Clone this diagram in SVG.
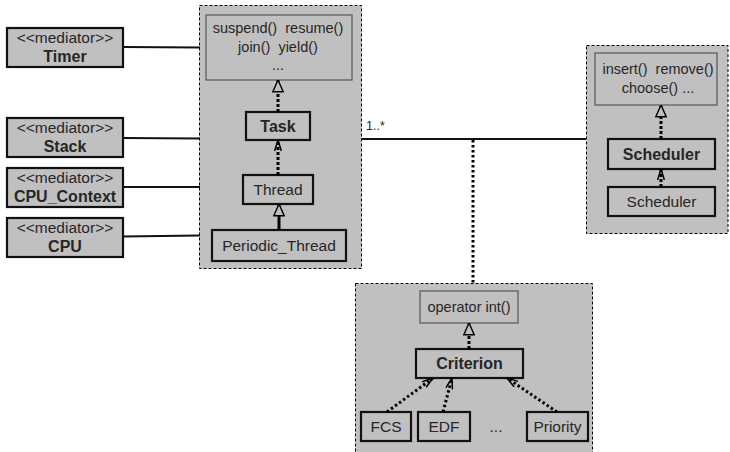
<svg xmlns="http://www.w3.org/2000/svg" width="730" height="452" viewBox="0 0 730 452">
  <style>
    .bg { fill: #ffffff; }
    .pkg { fill: #c0c0c0; stroke: #000; stroke-width: 1; stroke-dasharray: 3 2; }
    .ops { fill: #c0c0c0; stroke: #555; stroke-width: 1.2; }
    .cls { fill: #c0c0c0; stroke: #111; stroke-width: 2.2; }
    .t { font-family: "Liberation Sans", Arial, sans-serif; font-size: 15.5px; fill: #262626; text-anchor: middle; white-space: pre; }
    .m { font-size: 14.5px; }
    .b { font-weight: bold; font-size: 16px; }
    .wire { stroke: #111; stroke-width: 2; fill: none; }
    .realize { stroke: #000; stroke-width: 3; stroke-dasharray: 3 2; fill: none; }
    .inherit { stroke: #000; stroke-width: 3; fill: none; }
    .dep { stroke: #000; stroke-width: 3; stroke-dasharray: 2.5 2.5; fill: none; }
  </style>
  <defs>
    <marker id="tri" viewBox="0 0 13 12" refX="12.5" refY="6" markerWidth="13" markerHeight="12" markerUnits="userSpaceOnUse" orient="auto">
      <path d="M0.8,0.8 L12.5,6 L0.8,11.2 Z" fill="#c0c0c0" stroke="#000" stroke-width="1.4"/>
    </marker>
    <marker id="open" viewBox="0 0 12 8" refX="11.5" refY="4" markerWidth="12" markerHeight="8" markerUnits="userSpaceOnUse" orient="auto">
      <path d="M0.5,0.6 L11.5,4 L0.5,7.4" fill="none" stroke="#000" stroke-width="1.5"/>
    </marker>
  </defs>

  <rect class="bg" x="0" y="0" width="730" height="452"/>

  <!-- package containers -->
  <g id="task-package">
    <rect class="pkg" x="199.5" y="5.5" width="162" height="263"/>
    <g id="task-ops">
      <rect class="ops" x="206" y="15" width="146" height="65"/>
      <text class="t m" x="278" y="33" xml:space="preserve">suspend()  resume()</text>
      <text class="t m" x="278" y="52" xml:space="preserve">join()  yield()</text>
      <text class="t m" x="278" y="70">...</text>
    </g>
    <g id="task">
      <rect class="cls" x="246" y="112" width="64" height="28"/>
      <text class="t b" x="278" y="132">Task</text>
    </g>
    <g id="thread">
      <rect class="cls" x="243" y="175" width="70" height="29"/>
      <text class="t" x="278" y="195">Thread</text>
    </g>
    <g id="periodic-thread">
      <rect class="cls" x="212" y="230" width="134" height="31"/>
      <text class="t" x="279" y="251">Periodic_Thread</text>
    </g>
  </g>

  <g id="scheduler-package">
    <rect class="pkg" x="586.5" y="45.5" width="141.5" height="188"/>
    <g id="scheduler-ops">
      <rect class="ops" x="595" y="53" width="122" height="52"/>
      <text class="t m" x="658" y="74" xml:space="preserve">insert()  remove()</text>
      <text class="t m" x="658" y="93">choose() ...</text>
    </g>
    <g id="scheduler-if">
      <rect class="cls" x="608" y="139" width="107" height="30"/>
      <text class="t b" x="661.5" y="160">Scheduler</text>
    </g>
    <g id="scheduler-impl">
      <rect class="cls" x="608" y="187" width="107" height="29"/>
      <text class="t" x="661.5" y="207">Scheduler</text>
    </g>
  </g>

  <g id="criterion-package">
    <rect class="pkg" x="355.5" y="283.5" width="237" height="172"/>
    <g id="criterion-ops">
      <rect class="ops" x="420" y="291" width="98" height="32"/>
      <text class="t m" x="469" y="312">operator int()</text>
    </g>
    <g id="criterion">
      <rect class="cls" x="416" y="349" width="107" height="29"/>
      <text class="t b" x="469.5" y="369">Criterion</text>
    </g>
    <g id="fcs">
      <rect class="cls" x="361" y="412" width="50" height="29"/>
      <text class="t" x="386" y="432">FCS</text>
    </g>
    <g id="edf">
      <rect class="cls" x="418" y="412" width="52" height="29"/>
      <text class="t" x="444" y="432">EDF</text>
    </g>
    <text class="t" x="496" y="432">...</text>
    <g id="priority">
      <rect class="cls" x="527" y="412" width="61" height="29"/>
      <text class="t" x="557.5" y="432">Priority</text>
    </g>
  </g>

  <!-- mediators -->
  <g id="timer">
    <rect class="cls" x="7" y="28" width="116" height="39"/>
    <text class="t" x="65" y="43">&lt;&lt;mediator&gt;&gt;</text>
    <text class="t b" x="65" y="62">Timer</text>
  </g>
  <g id="stack">
    <rect class="cls" x="7" y="118" width="116" height="39"/>
    <text class="t" x="65" y="133">&lt;&lt;mediator&gt;&gt;</text>
    <text class="t b" x="65" y="152">Stack</text>
  </g>
  <g id="cpu-context">
    <rect class="cls" x="7" y="168" width="116" height="39"/>
    <text class="t" x="65" y="183">&lt;&lt;mediator&gt;&gt;</text>
    <text class="t b" x="65" y="202">CPU_Context</text>
  </g>
  <g id="cpu">
    <rect class="cls" x="7" y="218" width="116" height="39"/>
    <text class="t" x="65" y="233">&lt;&lt;mediator&gt;&gt;</text>
    <text class="t b" x="65" y="252">CPU</text>
  </g>

  <!-- connectors -->
  <g id="connectors">
    <line class="wire" x1="123" y1="47" x2="200" y2="47.5"/>
    <line class="wire" x1="123" y1="138" x2="200" y2="138.5"/>
    <line class="wire" x1="123" y1="187" x2="200" y2="187"/>
    <line class="wire" x1="123" y1="236.5" x2="200" y2="235.5"/>

    <line class="wire" x1="361" y1="139" x2="586" y2="139"/>
    <text class="t" x="366" y="130" style="font-size:12.5px;text-anchor:start">1..*</text>
    <line class="dep" x1="473" y1="140" x2="473" y2="283"/>

    <line class="realize" x1="278" y1="112" x2="278" y2="80" marker-end="url(#tri)"/>
    <line class="realize" x1="278" y1="175" x2="278" y2="140" marker-end="url(#open)"/>
    <line class="inherit" x1="279" y1="230" x2="279" y2="204" marker-end="url(#tri)"/>

    <line class="realize" x1="661" y1="139" x2="661" y2="105" marker-end="url(#tri)"/>
    <line class="realize" x1="661" y1="187" x2="661" y2="169" marker-end="url(#open)"/>

    <line class="realize" x1="469" y1="349" x2="469" y2="323" marker-end="url(#tri)"/>
    <line class="dep" x1="387" y1="412" x2="433" y2="378" marker-end="url(#open)"/>
    <line class="dep" x1="443" y1="412" x2="452" y2="378" marker-end="url(#open)"/>
    <line class="dep" x1="557" y1="412" x2="507" y2="378" marker-end="url(#open)"/>
  </g>
</svg>
